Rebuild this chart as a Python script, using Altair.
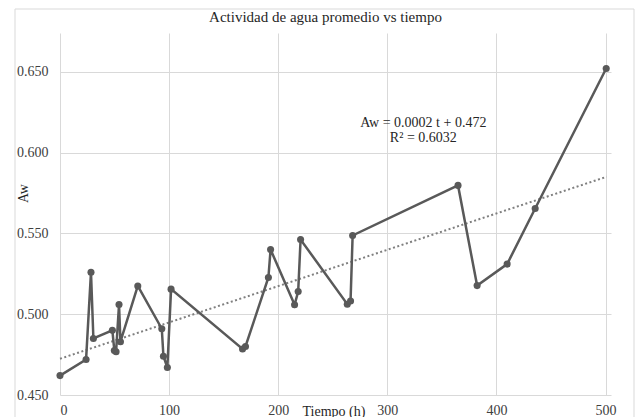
import altair as alt
import pandas as pd

# Data
tiempo = [0.0, 23.9, 28.4, 30.6, 48.0, 49.8, 51.4, 54.1, 55.4, 71.3, 93.3, 94.8, 98.4, 101.8,
          167.3, 170.0, 191.0, 193.0, 215.0, 218.3, 220.5, 263.3, 266.3, 268.2,
          364.8, 382.3, 409.8, 435.5, 500.6]
aw = [0.462, 0.472, 0.526, 0.485, 0.490, 0.4775, 0.4768, 0.506, 0.483, 0.5175, 0.491, 0.474, 0.467, 0.5155,
      0.4785, 0.480, 0.5227, 0.540, 0.5058, 0.514, 0.5462, 0.5062, 0.5082, 0.5487,
      0.5797, 0.5177, 0.531, 0.5654, 0.652]
x_ticks = [0, 100, 200, 300, 400, 500]
y_ticks = [0.45, 0.50, 0.55, 0.60, 0.65]
eq_text = ["Aw = 0.0002 t + 0.472", "R² = 0.6032"]
eq_pos_t = [333, 333]
eq_pos_aw = [0.6185, 0.6090]

FONT = "Liberation Serif"
GREY = "#595959"

df = pd.DataFrame({"t": tiempo, "aw": aw, "i": range(len(tiempo))})
eq_df = pd.DataFrame({"t": eq_pos_t, "aw": eq_pos_aw, "txt": eq_text})

xs = alt.Scale(domain=[0, 505], nice=False)
ys = alt.Scale(domain=[0.45, 0.674], nice=False, zero=False)

x_axis = alt.Axis(values=x_ticks, format="d", title="Tiempo (h)", grid=True, domain=False, ticks=False,
                  labelPadding=8, titleX=242, titleY=16, titleAlign="left", titleBaseline="middle",
                  titleFontWeight="normal")
y_axis = alt.Axis(values=y_ticks, format=".3f", title="Aw", grid=True, domain=False, ticks=False,
                  labelPadding=12, titleX=-37, titleY=160, titleBaseline="middle", titleAlign="center",
                  titleFontWeight="normal")

base = alt.Chart(df)

line = base.mark_line(color=GREY, strokeWidth=2.5).encode(
    x=alt.X("t:Q", scale=xs, axis=x_axis),
    y=alt.Y("aw:Q", scale=ys, axis=y_axis),
    order="i:Q",
)
points = base.mark_circle(color=GREY, size=50, opacity=1).encode(
    x=alt.X("t:Q", scale=xs),
    y=alt.Y("aw:Q", scale=ys),
)
trend = base.transform_regression("t", "aw", extent=[0, 501]).mark_line(
    color="#7f7f7f", strokeWidth=2, strokeDash=[2, 2.5]
).encode(
    x=alt.X("t:Q", scale=xs),
    y=alt.Y("aw:Q", scale=ys),
)
eq = alt.Chart(eq_df).mark_text(font=FONT, fontSize=14, color="#262626", align="center", baseline="middle").encode(
    x=alt.X("t:Q", scale=xs),
    y=alt.Y("aw:Q", scale=ys),
    text="txt:N",
)
frame = alt.Chart(df).mark_rect(fill=None, stroke="#d9d9d9", strokeWidth=1).encode(
    x=alt.value(-45), x2=alt.value(574), y=alt.value(-24), y2=alt.value(400)
).transform_filter("datum.i == 0")

chart = alt.layer(frame, trend, line, points, eq).properties(
    width=551,
    height=362,
    title=alt.TitleParams("Actividad de agua promedio vs tiempo", font=FONT, fontSize=15,
                          fontWeight="normal", color="#262626", anchor="middle", dx=-10, offset=-16,
                          frame="group"),
    autosize=alt.AutoSizeParams(type="none"),
    padding={"left": 60, "top": 33, "right": 27, "bottom": 22},
).configure(background="white").configure_view(stroke=None).configure_axis(
    gridColor="#d9d9d9", gridWidth=1, labelFont=FONT, labelFontSize=14, labelColor="#404040",
    titleFont=FONT, titleFontSize=14, titleColor="#262626",
)

chart.save("out.html", embed_options={"renderer": "svg", "actions": False})
